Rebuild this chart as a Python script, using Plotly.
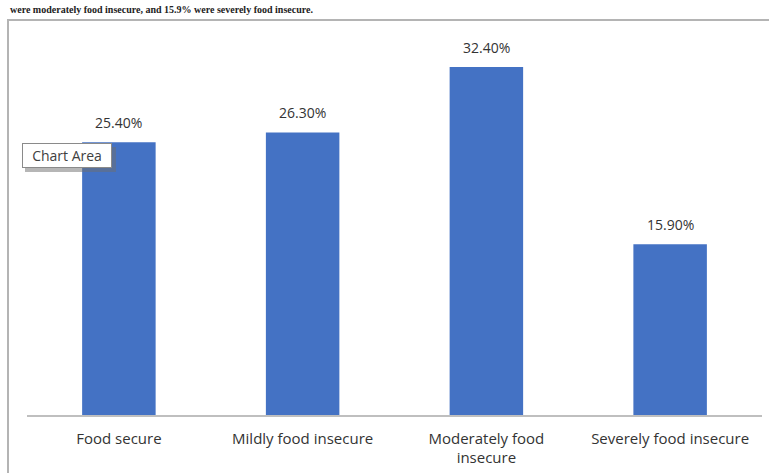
import plotly.graph_objects as go

categories = ["Food secure", "Mildly food insecure", "Moderately food<br>insecure", "Severely food insecure"]
values = [25.4, 26.3, 32.4, 15.9]
labels = ["25.40%", "26.30%", "32.40%", "15.90%"]

W, H = 769, 473
ML, MR, MT, MB = 27, 7, 39, 58
PW, PH = W - ML - MR, H - MT - MB

def px(x):
    return (x - ML) / PW

def py(y):
    return (H - MB - y) / PH

fig = go.Figure()
fig.add_trace(go.Bar(
    x=categories, y=values,
    marker=dict(color="#4472C4", line=dict(width=0)),
))

shapes = [
    dict(type="rect", xref="paper", yref="paper", x0=px(8), x1=px(790), y0=py(500), y1=py(20),
         line=dict(color="#b4b4b4", width=2), fillcolor="rgba(0,0,0,0)", layer="below"),
    dict(type="rect", xref="paper", yref="paper", x0=px(25), x1=px(116), y0=py(172), y1=py(147),
         line=dict(width=0), fillcolor="rgba(110,110,110,0.5)", layer="above"),
]

annotations = [
    dict(text="<b>were moderately food insecure, and 15.9% were severely food insecure.</b>",
         xref="paper", yref="paper", x=px(8), y=py(10), xanchor="left", yanchor="middle",
         showarrow=False, font=dict(family="Liberation Serif, serif", size=10, color="#222222")),
    dict(text="Chart Area", xref="paper", yref="paper", x=px(22), y=py(143),
         xanchor="left", yanchor="top", showarrow=False, width=86, height=21,
         bgcolor="#ffffff", bordercolor="#8a8a8a", borderwidth=1, borderpad=1,
         font=dict(family="Open Sans, sans-serif", size=14, color="#404040")),
]
for c, v, t in zip(categories, values, labels):
    annotations.append(dict(x=c, y=v, text=t, xref="x", yref="y", yanchor="bottom",
                            showarrow=False, yshift=8,
                            font=dict(family="Open Sans, sans-serif", size=14, color="#333333")))

fig.update_layout(
    width=W, height=H,
    margin=dict(l=ML, r=MR, t=MT, b=MB),
    paper_bgcolor="white", plot_bgcolor="white",
    bargap=0.6, showlegend=False,
    shapes=shapes, annotations=annotations,
    xaxis=dict(showline=True, linecolor="#bfbfbf", linewidth=1.5, ticks="", showgrid=False,
               ticklabelstandoff=9,
               tickfont=dict(family="Open Sans, sans-serif", size=15, color="#333333")),
    yaxis=dict(range=[0, 35], visible=False, showgrid=False, zeroline=False),
)

fig.write_html("out.html")
